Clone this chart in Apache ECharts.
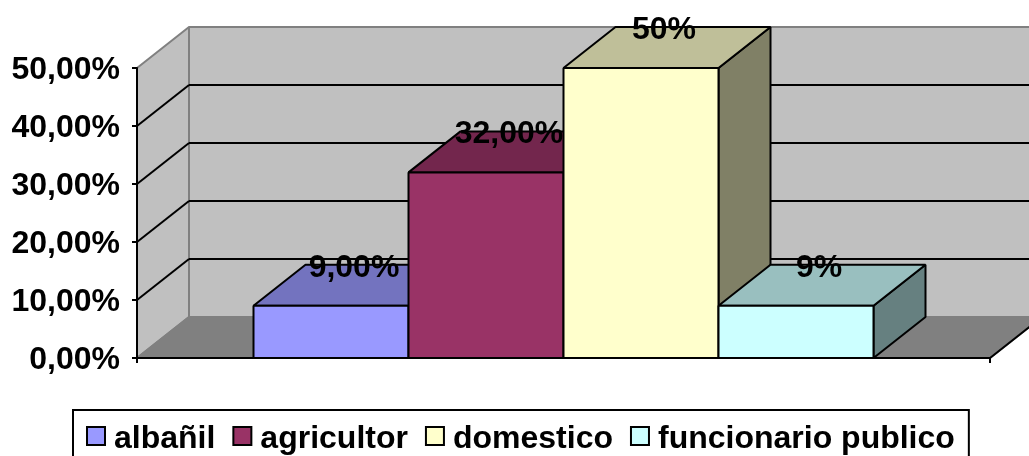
<!DOCTYPE html>
<html>
<head>
<meta charset="utf-8">
<script src="https://cdn.jsdelivr.net/npm/echarts@6/dist/echarts.min.js"></script>
<style>
  html, body { margin: 0; padding: 0; background: #fff; }
  #chart { width: 1029px; height: 456px; }
</style>
</head>
<body>
<div id="chart"></div>
<script>
var categories = ['albañil', 'agricultor', 'domestico', 'funcionario publico'];
var values = [9, 32, 50, 9];
var barLabels = ['9,00%', '32,00%', '50%', '9%'];
var yTicks = [0, 10, 20, 30, 40, 50];
var yTickLabels = ['0,00%', '10,00%', '20,00%', '30,00%', '40,00%', '50,00%'];
var frontColors = ['#9999FF', '#993366', '#FFFFCC', '#CCFFFF'];
var topColors = ['#7373BF', '#73264D', '#BFBF99', '#99BFBF'];
var sideColors = ['#4D4D80', '#4D1A33', '#808066', '#668080'];

// depth of the fake 3D box, in pixels
var DX = 52, DY = -41;
var FONT = '"Liberation Sans", Arial, sans-serif';

function poly(points, fill, stroke, width) {
    return {
        type: 'polygon',
        shape: { points: points },
        style: { fill: fill, stroke: stroke, lineWidth: width, lineJoin: 'bevel' }
    };
}

function seg(a, b, color, width) {
    return {
        type: 'line',
        shape: { x1: a[0], y1: a[1], x2: b[0], y2: b[1] },
        style: { stroke: color, lineWidth: width }
    };
}

function renderWalls(params, api) {
    var rect = params.coordSys;
    var left = rect.x, right = rect.x + rect.width;
    var y0 = api.coord([0, 0])[1];
    var yMax = api.coord([0, yTicks[yTicks.length - 1]])[1];
    var kids = [
        // back wall
        poly([[left + DX, yMax + DY], [right + DX, yMax + DY], [right + DX, y0 + DY], [left + DX, y0 + DY]], '#C0C0C0', '#808080', 2),
        // side wall
        poly([[left, yMax], [left + DX, yMax + DY], [left + DX, y0 + DY], [left, y0]], '#C0C0C0', '#808080', 2),
        // floor
        poly([[left, y0], [left + DX, y0 + DY], [right + DX, y0 + DY], [right, y0]], '#808080', '#808080', 2)
    ];
    yTicks.forEach(function (t) {
        if (t === 0 || t === yTicks[yTicks.length - 1]) return;
        var y = api.coord([0, t])[1];
        kids.push(seg([left, y], [left + DX, y + DY], '#000', 2));
        kids.push(seg([left + DX, y + DY], [right + DX, y + DY], '#000', 2));
    });
    kids.push(seg([right, y0], [right + DX, y0 + DY], '#000', 2));
    return { type: 'group', children: kids };
}

function barGeom(i, api) {
    var slot = api.size([1, 0])[0] * 155 / 853;
    var c = api.coord([0, values[i]]);
    var base = api.coord([0, 0])[1];
    var x = c[0] + (i - categories.length / 2) * slot;
    return { x: x, w: slot, top: c[1], base: base };
}

function makeBarRenderer(i) {
    return function (params, api) {
        var g = barGeom(i, api);
        var x1 = g.x + g.w;
        return {
            type: 'group',
            children: [
                poly([[x1, g.top], [x1 + DX, g.top + DY], [x1 + DX, g.base + DY], [x1, g.base]], sideColors[i], '#000', 2),
                poly([[g.x, g.top], [g.x + DX, g.top + DY], [x1 + DX, g.top + DY], [x1, g.top]], topColors[i], '#000', 2),
                poly([[g.x, g.top], [x1, g.top], [x1, g.base], [g.x, g.base]], frontColors[i], '#000', 2)
            ]
        };
    };
}

function renderLabel(params, api) {
    var i = params.dataIndex;
    var g = barGeom(i, api);
    return {
        type: 'text',
        style: {
            x: g.x + g.w / 2 + 23,
            y: g.top - 38,
            text: barLabels[i],
            fill: '#000',
            font: 'bold 32px ' + FONT,
            align: 'center',
            verticalAlign: 'middle'
        }
    };
}

var series = [{
    name: 'paredes',
    type: 'custom',
    z: 1,
    silent: true,
    clip: false,
    data: [[0, 0]],
    renderItem: renderWalls
}];

categories.forEach(function (name, i) {
    series.push({
        name: name,
        type: 'custom',
        z: 2,
        silent: true,
        clip: false,
        itemStyle: { color: frontColors[i] },
        data: [[0, values[i]]],
        renderItem: makeBarRenderer(i)
    });
});

series.push({
    name: 'etiquetas',
    type: 'custom',
    z: 5,
    silent: true,
    clip: false,
    data: values.map(function (v) { return [0, v]; }),
    renderItem: renderLabel
});

var chart = echarts.init(document.getElementById('chart'), null, { renderer: 'canvas' });
chart.setOption({
    animation: false,
    backgroundColor: '#fff',
    grid: { left: 137, right: 39, top: 68, bottom: 98 },
    xAxis: {
        type: 'category',
        data: [''],
        z: 3,
        axisLine: { lineStyle: { color: '#000', width: 2 } },
        axisTick: { show: true, length: 5, lineStyle: { color: '#000', width: 2 } },
        axisLabel: { show: false }
    },
    yAxis: {
        type: 'value',
        min: 0,
        max: 50,
        interval: 10,
        z: 3,
        axisLine: { show: true, lineStyle: { color: '#000', width: 2 } },
        axisTick: { show: true, length: 5, lineStyle: { color: '#000', width: 2 } },
        splitLine: { show: false },
        axisLabel: {
            margin: 17,
            formatter: function (v) { return '{t|' + yTickLabels[yTicks.indexOf(v)] + '}'; },
            rich: {
                t: { color: '#000', fontFamily: FONT, fontWeight: 'bold', fontSize: 32, padding: [4, 0, 0, 0] }
            }
        }
    },
    legend: {
        data: categories,
        left: 73,
        top: 410,
        padding: [13, 14, 30, 13],
        orient: 'horizontal',
        icon: 'rect',
        itemWidth: 18,
        itemHeight: 18,
        itemGap: 17,
        borderColor: '#000',
        borderWidth: 2,
        selectedMode: false,
        itemStyle: { borderColor: '#000', borderWidth: 2 },
        formatter: function (name) { return '{t|' + name + '}'; },
        textStyle: {
            rich: {
                t: { color: '#000', fontFamily: FONT, fontWeight: 'bold', fontSize: 32, padding: [6, 0, 0, 4] }
            }
        }
    },
    series: series
});
</script>
</body>
</html>
